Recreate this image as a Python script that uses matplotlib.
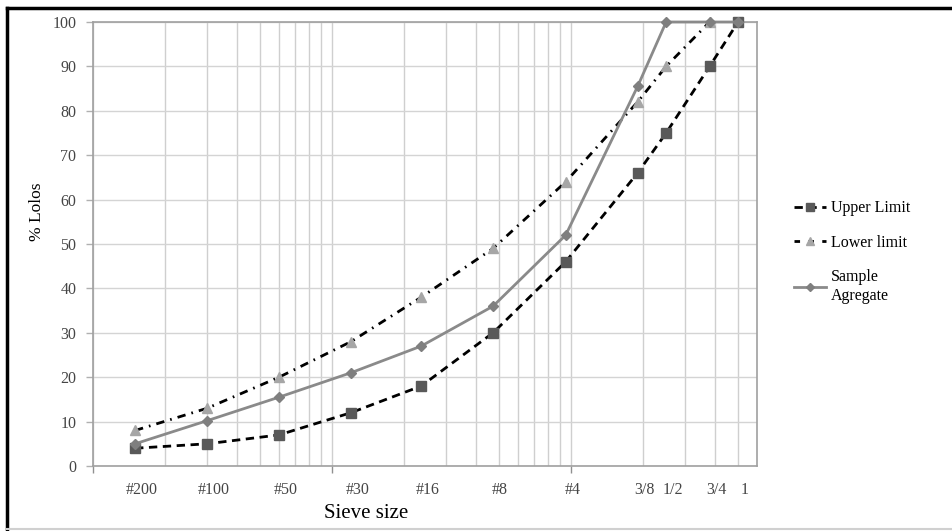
import matplotlib
matplotlib.use("Agg")
import matplotlib.pyplot as plt
import matplotlib.transforms as mtransforms
from matplotlib.lines import Line2D

# ---- data ----
sieve_labels = ["#200", "#100", "#50", "#30", "#16", "#8", "#4", "3/8", "1/2", "3/4", "1"]
sieve_mm = [0.075, 0.15, 0.3, 0.6, 1.18, 2.36, 4.75, 9.5, 12.5, 19.0, 25.0]
upper_limit = [4, 5, 7, 12, 18, 30, 46, 66, 75, 90, 100]
lower_limit = [8, 13, 20, 28, 38, 49, 64, 82, 90, 100]
sample_agg = [5, 10.2, 15.5, 21, 27, 36, 52, 85.5, 100, 100, 100]
y_ticks = [0, 10, 20, 30, 40, 50, 60, 70, 80, 90, 100]

plt.rcParams['font.family'] = ['Liberation Serif', 'DejaVu Serif']

W, H = 952, 531
fig = plt.figure(figsize=(W / 100, H / 100), dpi=100)
ax = fig.add_axes([93 / W, (H - 466) / H, (757 - 93) / W, (466 - 22) / H])

ax.set_xscale('log')
ax.set_xlim(0.05, 30)
ax.set_ylim(0, 100)

# grid lines (Excel-style log grid from 0.05)
decades = [0.05, 0.5, 5]
minor = [k * d for d in decades for k in range(2, 10) if k * d < 30]
ax.set_xticks(decades)
ax.set_xticklabels([])
ax.set_xticks(minor, minor=True)
ax.set_xticklabels([], minor=True)
ax.tick_params(axis='x', which='major', length=5, color='#909090', width=1, direction='out')
ax.tick_params(axis='x', which='minor', length=0)
ax.grid(True, which='both', axis='x', color='#cfcfcf', linewidth=1.0)
ax.set_yticks(y_ticks)
ax.tick_params(axis='y', length=5, color='#b0b0b0', width=1, labelsize=11.5,
               labelcolor='#454545', pad=7)
ax.grid(True, which='major', axis='y', color='#d4d4d4', linewidth=1.0)
ax.set_axisbelow(True)
for s in ax.spines.values():
    s.set_color('#a0a0a0')
    s.set_linewidth(1.2)

# sieve labels
trans = mtransforms.blended_transform_factory(ax.transData, ax.transAxes)
off = mtransforms.ScaledTranslation(7 / 100, 0, fig.dpi_scale_trans)
for lab, x in zip(sieve_labels, sieve_mm):
    ax.text(x, -0.054, lab, transform=trans + off, ha='center', va='center',
            fontsize=11.5, color='#454545')

lw = 2.0
ax.plot(sieve_mm, upper_limit, color='black', lw=lw, dashes=(3.0, 2.0),
        marker='s', markersize=7, markerfacecolor='#595959', markeredgecolor='#595959',
        clip_on=False, zorder=3)
ax.plot(sieve_mm[:len(lower_limit)], lower_limit, color='black', lw=lw,
        dashes=(3.0, 2.2, 0.6, 2.2),
        marker='^', markersize=7.5, markerfacecolor='#a6a6a6', markeredgecolor='#a6a6a6',
        clip_on=False, zorder=3)
ax.plot(sieve_mm, sample_agg, color='#8a8a8a', lw=2.0,
        marker='D', markersize=5.5, markerfacecolor='#7f7f7f', markeredgecolor='#7f7f7f',
        clip_on=False, zorder=4)

# legend
handles = [
    Line2D([], [], color='black', lw=lw, dashes=(3.0, 2.0), marker='s', markersize=6,
           markerfacecolor='#595959', markeredgecolor='#595959'),
    Line2D([], [], color='black', lw=lw, dashes=(2.0, 3.0), marker='^', markersize=6,
           markerfacecolor='#a6a6a6', markeredgecolor='#a6a6a6'),
    Line2D([], [], color='#8a8a8a', lw=2.0, marker='D', markersize=4.5,
           markerfacecolor='#7f7f7f', markeredgecolor='#7f7f7f'),
]
fig.legend(handles, ["Upper Limit", "Lower limit", "Sample\nAgregate"],
           loc='upper left', bbox_to_anchor=(788 / W, 1 - 194 / H), frameon=False,
           fontsize=11.5, handlelength=2.0, handletextpad=0.3, labelspacing=1.15,
           borderaxespad=0)

fig.text(366 / W, 1 - 514 / H, "Sieve size", ha='center', va='center', fontsize=15)
fig.text(37 / W, 1 - 212 / H, "% Lolos", ha='center', va='center', fontsize=12.5,
         rotation=90)

# outer frame
fig.add_artist(Line2D([7 / W, 1], [1 - 8 / H, 1 - 8 / H], color='black', lw=2.5,
                      transform=fig.transFigure))
fig.add_artist(Line2D([7 / W, 7 / W], [1 - 8 / H, 0], color='black', lw=2.5,
                      transform=fig.transFigure))
fig.add_artist(Line2D([7 / W, 1], [1 - 529 / H, 1 - 529 / H], color='#d0d0d0', lw=1.5,
                      transform=fig.transFigure))

fig.savefig("out.png", dpi=100)
